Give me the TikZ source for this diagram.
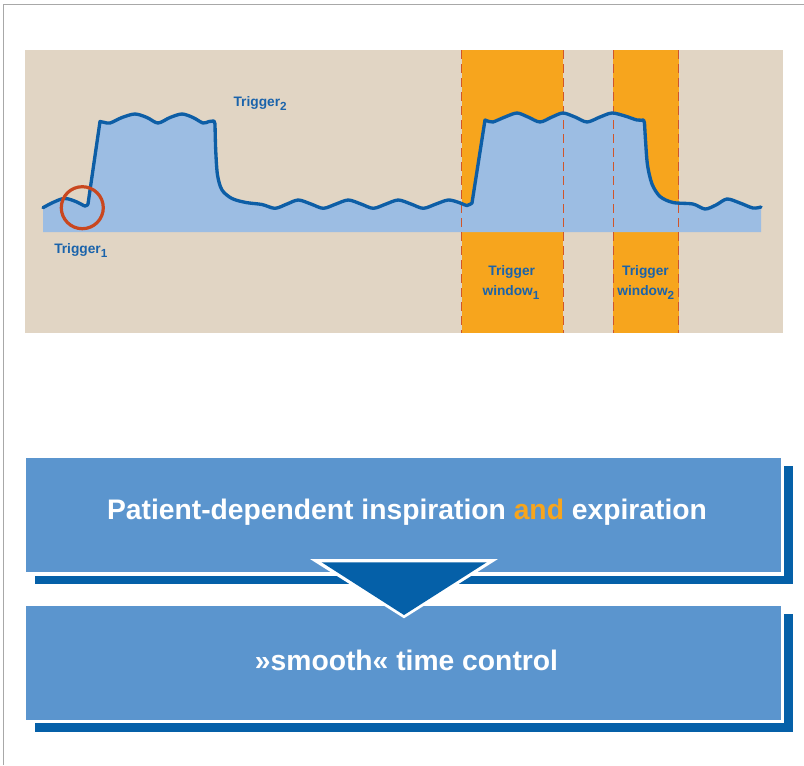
\documentclass[tikz,border=0pt]{standalone}
\usepackage{fontspec}
\setmainfont{Liberation Sans}
\usetikzlibrary{backgrounds}
\definecolor{beige}{HTML}{E1D5C4}
\definecolor{orng}{HTML}{F7A51D}
\definecolor{wavefill}{HTML}{9CBDE3}
\definecolor{waveline}{HTML}{0D5EA6}
\definecolor{lbltext}{HTML}{1A63AB}
\definecolor{dashcol}{HTML}{D0552B}
\definecolor{circcol}{HTML}{C9471F}
\definecolor{boxblue}{HTML}{5B95CE}
\definecolor{shadowblue}{HTML}{0560A8}
\definecolor{framegray}{HTML}{A8A8A8}
\newcommand\lowsub[1]{\raisebox{-0.28em}{\fontsize{8.8}{9}\selectfont #1}}
\tikzset{
  lbl/.style={font=\fontsize{10.3}{12}\selectfont\bfseries, text=lbltext, inner sep=0pt},
  bigtxt/.style={font=\fontsize{21.2}{25}\selectfont\bfseries, text=white, inner sep=0pt},
  flowbox/.style={fill=boxblue, draw=white, line width=2.625pt, inner sep=0pt, outer sep=0pt,
    minimum width=568.69pt, minimum height=88.2pt},
  winline/.style={draw=dashcol, line width=0.9pt, dash pattern=on 7pt off 3.5pt},
  wavestroke/.style={draw=waveline, line width=2.5pt, line join=round, line cap=round},
}
\def\wave{(43,207.7)
 -- plot[smooth,tension=0.6] coordinates {(43,207.7) (54,202) (65,198.5) (77,202) (85,206) (88,204)}
 -- plot[smooth,tension=0.5] coordinates {(100,121.5) (104,122.3) (110,123) (122,117.5) (135,114) (147,117.5) (158,123) (170,117.5) (182,114) (193,117.5) (203,123) (209,121.5) (214,121)}
 -- plot[smooth,tension=0.5] coordinates {(215,124) (215.7,150) (217.5,175) (222,190) (232,198.5) (246,202.5) (262,204.5) (275,208.3) (287,204) (298.3,200) (311,204) (323.3,208.3) (336,204) (348.3,200) (361,204) (373.3,208.3) (386,204) (398.3,200) (411,204) (423.3,208.3) (436,204) (448.3,200) (459,202.5) (467,205.5) (472,203)}
 -- plot[smooth,tension=0.5] coordinates {(485,120) (489,121.5) (493,122) (505,117) (517,113) (528,117) (540,122) (552,117) (563,113) (575,117) (587,122) (600,117) (612,113) (625,116) (637,120) (643.5,120)}
 -- plot[smooth,tension=0.5] coordinates {(644.5,123) (645.5,140) (647.5,165) (652,184) (660,196.5) (673,202.5) (693,204) (705,209) (716,205) (727,199) (740,203) (753,208) (761,207)}}
\begin{document}
\begin{tikzpicture}[x=0.75pt,y=-0.75pt]
\useasboundingbox (0,0) rectangle (804,765);
% frame
\draw[framegray, line width=0.75pt] (3,765) -- (3,4) -- (804,4);
% panel
\fill[beige] (25,50) rectangle (782.7,332.7);
\fill[orng] (461.7,50) rectangle (563.3,332.7);
\fill[orng] (613.3,50) rectangle (678.7,332.7);
% wave fill
\fill[wavefill] \wave -- (761,232) -- (43,232) -- cycle;
% dashed window borders
\foreach \xx in {461.7,563.3,613.3,678.7}
  \draw[winline] (\xx,50) -- (\xx,332.7);
% wave line
\draw[wavestroke] \wave;
% trigger circle
\draw[circcol, line width=2.4pt] (82.3,207.7) circle[radius=15.75pt];
% labels
\node[lbl, anchor=base west] (trig1) at (54,253.3) {Trigger\lowsub{1}};
\node[lbl, anchor=base west] (trig2) at (233.3,106.7) {Trigger\lowsub{2}};
\node[lbl, anchor=base] (w1a) at (511.7,275.5) {Trigger};
\node[lbl, anchor=base] (w1b) at (511,295.7) {window\lowsub{1}};
\node[lbl, anchor=base] (w2a) at (645.5,275.5) {Trigger};
\node[lbl, anchor=base] (w2b) at (645.8,295.7) {window\lowsub{2}};
% flow boxes
\node[flowbox] (b1) at (403.375,515.25) {};
\node[flowbox] (b2) at (403.375,662.85) {};
\begin{pgfonlayer}{background}
  \fill[shadowblue] ([xshift=7.9pt,yshift=-7.4pt]b1.south west) rectangle ([xshift=7.6pt,yshift=-7.1pt]b1.north east);
  \fill[shadowblue] ([xshift=7.9pt,yshift=-7.4pt]b2.south west) rectangle ([xshift=7.6pt,yshift=-7.1pt]b2.north east);
\end{pgfonlayer}
\node[bigtxt, anchor=base] (t1) at (407,519.3) {Patient-dependent inspiration \textcolor{orng}{and} expiration};
\node[bigtxt, anchor=base] (t2) at (406.5,670) {»smooth« time control};
% arrow triangle between boxes
\fill[white] (310,559) -- (498,559) -- (404,618.3) -- cycle;
\fill[shadowblue] (321.7,562.3) -- (486.7,562.3) -- (404,615) -- cycle;
\end{tikzpicture}
\end{document}
